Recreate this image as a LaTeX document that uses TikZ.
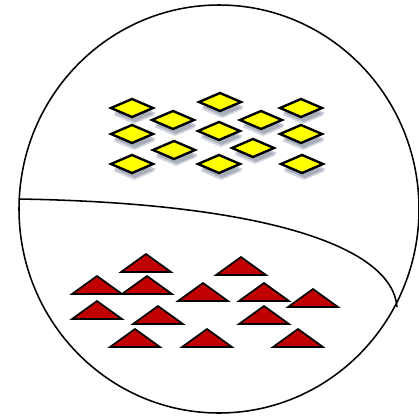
\documentclass[tikz,border=0pt]{standalone}
\usepackage{tikz}
\usetikzlibrary{shadows}

\definecolor{gemyellow}{RGB}{255,255,0}
\definecolor{gemred}{RGB}{192,0,0}
\definecolor{gemshade}{RGB}{105,115,140}

\tikzset{
  gem/.style={draw=black,line width=1.7pt,fill=gemyellow,line join=miter,
    drop shadow={fill=gemshade,opacity=.3,shadow xshift=1.5pt,shadow yshift=-5pt},
    drop shadow={fill=gemshade,opacity=.4,shadow xshift=2pt,shadow yshift=-3.5pt}},
  spike/.style={draw=black,line width=1.2pt,fill=gemred,line join=miter}
}

\begin{document}
\begin{tikzpicture}[x=0.025cm,y=-0.025cm]
	  \useasboundingbox (0,0) rectangle (419,415);
	  % outer circle and dividing curve
	  \draw[line width=1.1pt] (219,209) ellipse [x radius=200, y radius=204];
	  \draw[line width=1.1pt] (19,199) .. controls (260,203) and (392,245) .. (397,307);
	  % yellow diamonds
	  \foreach \x/\y in {132/108,220/102,301/108,173/120,261/120,
	                     132/134,219/131,301/134,174/150,253/148,
	                     132/164,219/164,302/164}
	    \path[gem] (\x-21,\y) -- (\x,\y-9) -- (\x+21,\y) -- (\x,\y+9) -- cycle;
	  % red triangles
	  \foreach \x/\y in {146/272,241/275,97/294,147/294,203/301,264/301,313/307,
	                     97/319,158/324,264/324,135/347,207/347,298/347}
	    \path[spike] (\x-25,\y) -- (\x,\y-18) -- (\x+25,\y) -- cycle;
	\end{tikzpicture}
\end{document}
